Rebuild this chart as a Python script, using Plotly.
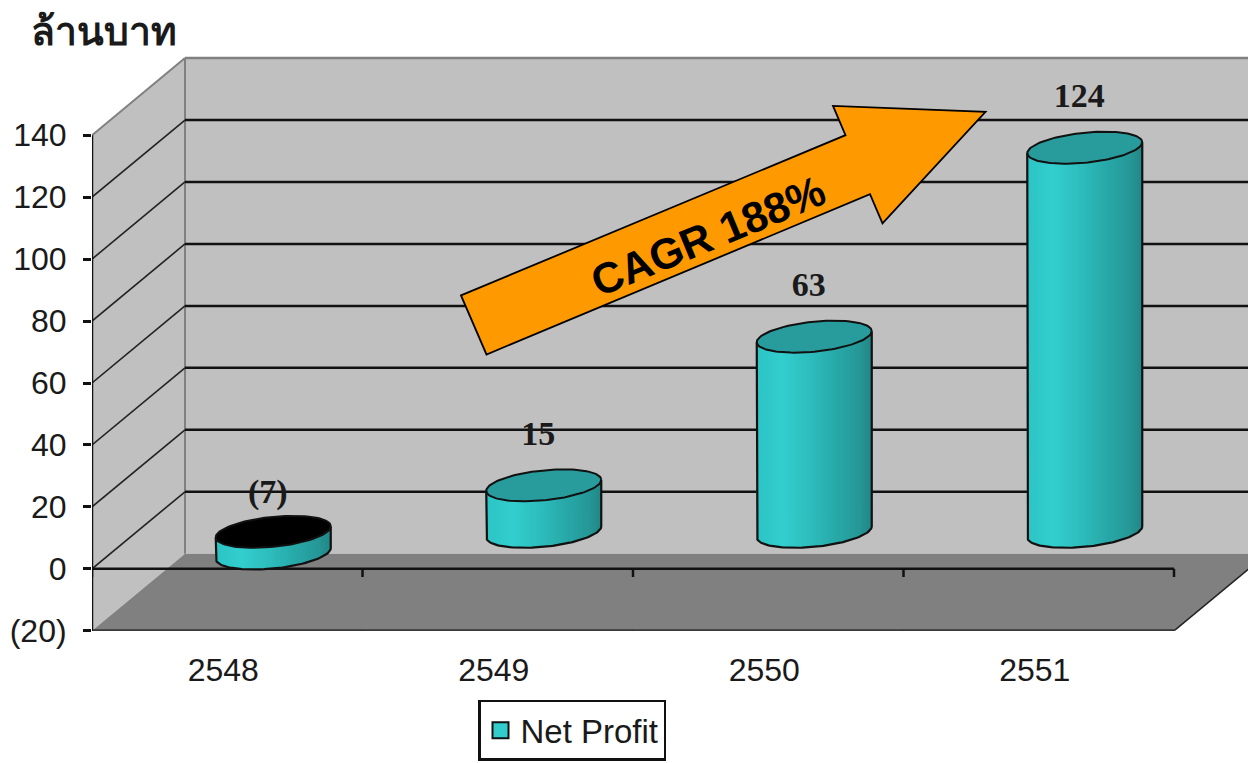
import numpy as np
import plotly.graph_objects as go

# ---- data -------------------------------------------------------------
years = ["2548", "2549", "2550", "2551"]
net_profit = [-7, 15, 63, 124]
y_ticks = [-20, 0, 20, 40, 60, 80, 100, 120, 140]
y_tick_labels = ["(20)", "0", "20", "40", "60", "80", "100", "120", "140"]
series_name = "Net Profit"
unit_title = "ล้านบาท"
arrow_text = "CAGR 188%"

# ---- canvas geometry ---------------------------------------------------
W, H = 1248, 763
LAYOUT_H = 782
PLOT_L, PLOT_B = 92, 630
PX_X = 270.5                 # pixels per category
PX_Y = 495 / 160             # pixels per value unit
X0, X_END = -0.5, 3.5
X_MAX = X0 + (W - PLOT_L) / PX_X
Y_MIN, Y_MAX = -20, -20 + PLOT_B / PX_Y
DEPTH_X = 93 / PX_X          # 3-D depth offset of the rear wall
DEPTH_Y = 77 / PX_Y
TOP_VAL = 140

# cylinder geometry
CX_SHIFT = 46 / PX_X
CY_SHIFT = 37 / PX_Y
A = 57.5 / PX_X
B = 15 / PX_Y
K = 5.5 / PX_Y
N_STRIPES = 46

TXT = "#1a1a1a"
SANS = "Liberation Sans, Arial"


def shade(u):
    stops_u = [-1.0, -0.55, -0.1, 0.4, 0.8, 1.0]
    r = np.interp(u, stops_u, [44, 51, 46, 40, 38, 34])
    g = np.interp(u, stops_u, [196, 206, 190, 168, 150, 134])
    b = np.interp(u, stops_u, [196, 206, 190, 168, 150, 134])
    return f"rgb({r:.0f},{g:.0f},{b:.0f})"


def px(x, y):
    return x / W, 1 - y / H


shapes = []


def poly(pts, fill, layer="below"):
    d = "M" + " L".join(f"{x},{y}" for x, y in pts) + " Z"
    shapes.append(dict(type="path", path=d, xref="x", yref="y", fillcolor=fill,
                       line=dict(width=0), layer=layer))


def seg(x0, y0, x1, y1, color="#111111", width=2.5, dash="solid"):
    shapes.append(dict(type="line", xref="x", yref="y", x0=x0, y0=y0, x1=x1, y1=y1,
                       line=dict(color=color, width=width, dash=dash), layer="below"))


bx = X0 + DEPTH_X
# walls and floor
poly([(bx, Y_MIN + DEPTH_Y), (X_MAX + 0.1, Y_MIN + DEPTH_Y),
      (X_MAX + 0.1, TOP_VAL + DEPTH_Y), (bx, TOP_VAL + DEPTH_Y)], "#C0C0C0")
poly([(X0, Y_MIN), (bx, Y_MIN + DEPTH_Y), (bx, TOP_VAL + DEPTH_Y), (X0, TOP_VAL)], "#C0C0C0")
poly([(X0, Y_MIN), (bx, Y_MIN + DEPTH_Y), (X_END + DEPTH_X, Y_MIN + DEPTH_Y),
      (X_END, Y_MIN)], "#808080")
# wall edges
seg(bx, Y_MIN + DEPTH_Y, bx, TOP_VAL + DEPTH_Y, "#808080", 2)
seg(bx, TOP_VAL + DEPTH_Y, X_MAX + 0.1, TOP_VAL + DEPTH_Y, "#808080", 2.5)
seg(X0, TOP_VAL, bx, TOP_VAL + DEPTH_Y, "#808080", 2)
# gridlines on side and rear walls
for v in y_ticks[1:-1]:
    seg(X0, v, bx, v + DEPTH_Y, "#222222", 1.6)
    seg(bx, v + DEPTH_Y, X_MAX + 0.1, v + DEPTH_Y, "#111111", 2.5)
# axes drawn only over their real extent
seg(X0, Y_MIN, X0, TOP_VAL)
seg(X0, 0, X_END, 0)
seg(X0, Y_MIN, X_END, Y_MIN)
seg(X_END, Y_MIN, X_END + DEPTH_X, Y_MIN + DEPTH_Y, "#222222", 1.6)
TICK = 8 / PX_Y
for i in range(len(years) + 1):
    xt = X0 + i
    seg(xt, 0, xt, -TICK)
    seg(xt, Y_MIN, xt, Y_MIN - TICK)

fig = go.Figure()

# cylinder bodies: one bar series per vertical shading stripe
centers = np.arange(len(years)) + CX_SHIFT
values = np.array(net_profit, dtype=float)
# the cylinder stands mid-depth: 0 sits CY_SHIFT above the front 0 line
hi = np.maximum(values, 0) + CY_SHIFT
lo = np.minimum(values, 0) + CY_SHIFT
step = 2 * A / N_STRIPES
for s in range(N_STRIPES):
    u = -1 + (s + 0.5) * 2 / N_STRIPES
    bottom = lo + K * u - B * np.sqrt(1 - u * u)
    top = hi + K * u
    fig.add_trace(go.Bar(x=centers + u * A, y=top - bottom, base=bottom, width=step * 1.25,
                         marker=dict(color=shade(u), line=dict(width=0)),
                         showlegend=False, hoverinfo="skip"))

# caps and outlines
t = np.linspace(0, 2 * np.pi, 121)
for cx, h, l, v in zip(centers, hi, lo, net_profit):
    fig.add_trace(go.Scatter(x=cx + A * np.cos(t), y=h + K * np.cos(t) + B * np.sin(t),
                             mode="lines", fill="toself",
                             fillcolor="#000000" if v < 0 else "#289C9C",
                             line=dict(color="#111111", width=2),
                             showlegend=False, hoverinfo="skip"))
    arc = np.linspace(np.pi, 2 * np.pi, 61)
    ox = np.concatenate([[cx - A], cx + A * np.cos(arc), [cx + A]])
    oy = np.concatenate([[h - K], l + K * np.cos(arc) + B * np.sin(arc), [h + K]])
    fig.add_trace(go.Scatter(x=ox, y=oy, mode="lines", line=dict(color="#111111", width=2.2),
                             showlegend=False, hoverinfo="skip"))

# value labels
labels = [f"({abs(v)})" if v < 0 else str(v) for v in net_profit]
gap = np.where(values < 0, 12.0, 15.8)
fig.add_trace(go.Scatter(x=centers - 0.02, y=hi + gap, mode="text", text=labels,
                         textposition="middle center", cliponaxis=False,
                         textfont=dict(family="Liberation Serif", size=34, color=TXT, weight="bold"),
                         showlegend=False, hoverinfo="skip"))

# legend key
fig.add_trace(go.Scatter(x=[None], y=[None], mode="markers", name=series_name,
                         marker=dict(symbol="square", size=16, color="#33CCCC",
                                     line=dict(color="#111111", width=2))))

# orange arrow
arrow_px = [(461, 295), (845.5, 135), (833, 105.7), (985.5, 111.7),
            (882.5, 223), (870, 194), (486.5, 354)]
arrow_paper = [px(*p) for p in arrow_px]
shapes.append(dict(type="path", xref="paper", yref="paper",
                   path="M" + " L".join(f"{x:.5f},{y:.5f}" for x, y in arrow_paper) + " Z",
                   fillcolor="#FF9900", line=dict(color="#000000", width=1.8), layer="above"))

ax, ay = px(708, 236)
tx, ty = px(104, 29)
annotations = [
    dict(text=f"<b>{arrow_text}</b>", x=ax, y=ay, xref="paper", yref="paper", showarrow=False,
         textangle=-22.5, xanchor="center", yanchor="middle",
         font=dict(family=SANS, size=43, color="#000000")),
    dict(text=f"<b>{unit_title}</b>", x=tx, y=ty, xref="paper", yref="paper", showarrow=False,
         xanchor="center", yanchor="middle",
         font=dict(family="Noto Sans, Liberation Sans", size=39, color=TXT)),
]

fig.update_layout(
    width=W, height=LAYOUT_H, autosize=False,
    margin=dict(l=0, r=0, t=0, b=0),
    paper_bgcolor="white", plot_bgcolor="white",
    barmode="overlay",
    shapes=shapes, annotations=annotations,
    showlegend=True,
    legend=dict(x=478 / W, y=1 - 699 / H, xanchor="left", yanchor="top",
                bgcolor="white", bordercolor="#111111", borderwidth=2.5,
                font=dict(family=SANS, size=33, color=TXT)),
    xaxis=dict(domain=[PLOT_L / W, 1], range=[X0, X_MAX], tickmode="array",
               tickvals=[i - 4 / PX_X for i in range(len(years))], ticktext=years,
               ticks="", ticklen=0,
               ticklabelstandoff=17, showgrid=False, zeroline=False, showline=False,
               tickfont=dict(family=SANS, size=32, color=TXT), fixedrange=True),
    yaxis=dict(domain=[(H - PLOT_B) / H, 1], range=[Y_MIN, Y_MAX], tickmode="array",
               tickvals=y_ticks, ticktext=y_tick_labels, ticks="outside", ticklen=8,
               tickwidth=2.5, tickcolor="#111111", ticklabelstandoff=10,
               showgrid=False, zeroline=False, showline=False,
               tickfont=dict(family=SANS, size=32, color=TXT), fixedrange=True),
)

fig.write_html("out.html", config=dict(displayModeBar=False),
               post_script="document.body.style.margin='0';document.documentElement.style.overflow='hidden';")
